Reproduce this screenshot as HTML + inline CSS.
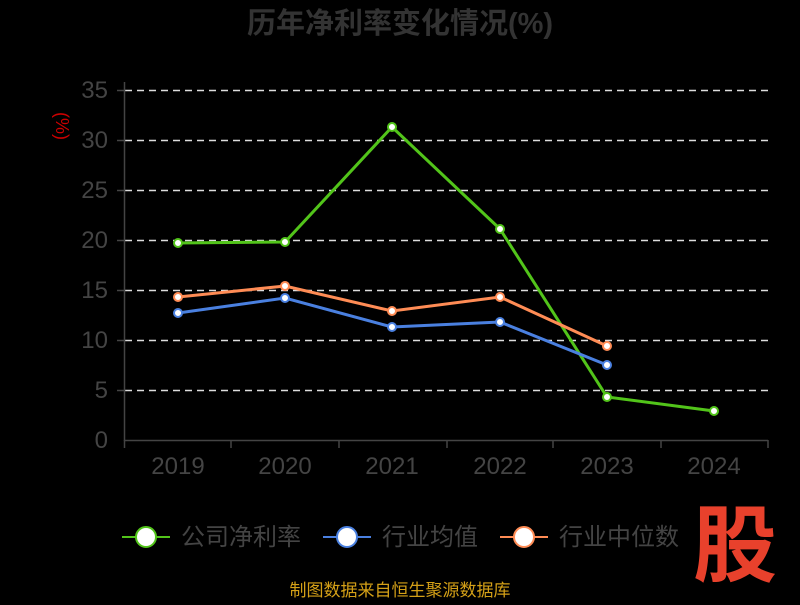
<!DOCTYPE html>
<html><head><meta charset="utf-8"><style>
body{margin:0;background:#000;width:800px;height:600px;overflow:hidden}
text{font-family:"Liberation Sans","Noto Sans CJK SC",sans-serif}
</style></head><body>
<svg width="800" height="600" xmlns="http://www.w3.org/2000/svg">
<text x="400" y="33" text-anchor="middle" font-size="29" font-weight="bold" fill="#333">历年净利率变化情况(%)</text>
<text x="62" y="126" font-size="18" fill="#c00" text-anchor="middle" transform="rotate(90 62 126)" dy="6">(%)</text>
<g stroke="#ddd" stroke-width="1.5" stroke-dasharray="7,5">
<line x1="125" y1="90.5" x2="768" y2="90.5"/><line x1="125" y1="140.5" x2="768" y2="140.5"/>
<line x1="125" y1="190.5" x2="768" y2="190.5"/><line x1="125" y1="240.5" x2="768" y2="240.5"/>
<line x1="125" y1="290.5" x2="768" y2="290.5"/><line x1="125" y1="340.5" x2="768" y2="340.5"/>
<line x1="125" y1="390.5" x2="768" y2="390.5"/>
</g>
<g stroke="#444" stroke-width="1.5">
<line x1="124.5" y1="82" x2="124.5" y2="441"/><line x1="124" y1="440.5" x2="768" y2="440.5"/>
<line x1="124.5" y1="440" x2="124.5" y2="448"/><line x1="231" y1="440" x2="231" y2="448"/>
<line x1="339" y1="440" x2="339" y2="448"/><line x1="447" y1="440" x2="447" y2="448"/>
<line x1="553" y1="440" x2="553" y2="448"/><line x1="661" y1="440" x2="661" y2="448"/>
<line x1="768" y1="440" x2="768" y2="448"/>
<line x1="117" y1="90.5" x2="125" y2="90.5"/><line x1="117" y1="140.5" x2="125" y2="140.5"/><line x1="117" y1="190.5" x2="125" y2="190.5"/><line x1="117" y1="240.5" x2="125" y2="240.5"/><line x1="117" y1="290.5" x2="125" y2="290.5"/><line x1="117" y1="340.5" x2="125" y2="340.5"/><line x1="117" y1="390.5" x2="125" y2="390.5"/>
</g>
<g font-size="24" fill="#444" text-anchor="end">
<text x="108" y="98">35</text><text x="108" y="148">30</text><text x="108" y="198">25</text><text x="108" y="248">20</text><text x="108" y="298">15</text><text x="108" y="348">10</text><text x="108" y="398">5</text><text x="108" y="448">0</text>
</g>
<g font-size="24" fill="#444" text-anchor="middle">
<text x="178" y="474">2019</text><text x="285" y="474">2020</text><text x="392" y="474">2021</text><text x="500" y="474">2022</text><text x="607" y="474">2023</text><text x="714" y="474">2024</text>
</g>
<g fill="none" stroke-width="3">
<polyline stroke="#52c41a" points="178,243 285,242 392,127 500,229 607,397 714,411"/>
<polyline stroke="#4a80e0" points="178,313 285,298 392,327 500,322 607,365"/>
<polyline stroke="#ff8c55" points="178,297 285,286 392,311 500,297 607,346"/>
</g>
<g fill="#fff" stroke-width="2">
<g stroke="#52c41a"><circle cx="178" cy="243" r="4"/><circle cx="285" cy="242" r="4"/><circle cx="392" cy="127" r="4"/><circle cx="500" cy="229" r="4"/><circle cx="607" cy="397" r="4"/><circle cx="714" cy="411" r="4"/></g>
<g stroke="#4a80e0"><circle cx="178" cy="313" r="4"/><circle cx="285" cy="298" r="4"/><circle cx="392" cy="327" r="4"/><circle cx="500" cy="322" r="4"/><circle cx="607" cy="365" r="4"/></g>
<g stroke="#ff8c55"><circle cx="178" cy="297" r="4"/><circle cx="285" cy="286" r="4"/><circle cx="392" cy="311" r="4"/><circle cx="500" cy="297" r="4"/><circle cx="607" cy="346" r="4"/></g>
</g>
<g font-size="24" fill="#444">
<line x1="122" y1="537" x2="170" y2="537" stroke="#52c41a" stroke-width="2"/><circle cx="146" cy="537" r="10" fill="#fff" stroke="#52c41a" stroke-width="2"/>
<text x="181" y="545">公司净利率</text>
<line x1="323" y1="537" x2="371" y2="537" stroke="#4a80e0" stroke-width="2"/><circle cx="347" cy="537" r="10" fill="#fff" stroke="#4a80e0" stroke-width="2"/>
<text x="382" y="545">行业均值</text>
<line x1="500" y1="537" x2="548" y2="537" stroke="#ff8c55" stroke-width="2"/><circle cx="524" cy="537" r="10" fill="#fff" stroke="#ff8c55" stroke-width="2"/>
<text x="559" y="545">行业中位数</text>
</g>
<text x="735" y="575" font-size="84" font-weight="bold" fill="#e8412c" text-anchor="middle">股</text>
<text x="400" y="596" font-size="17" fill="#d4a017" text-anchor="middle">制图数据来自恒生聚源数据库</text>
</svg>
</body></html>
